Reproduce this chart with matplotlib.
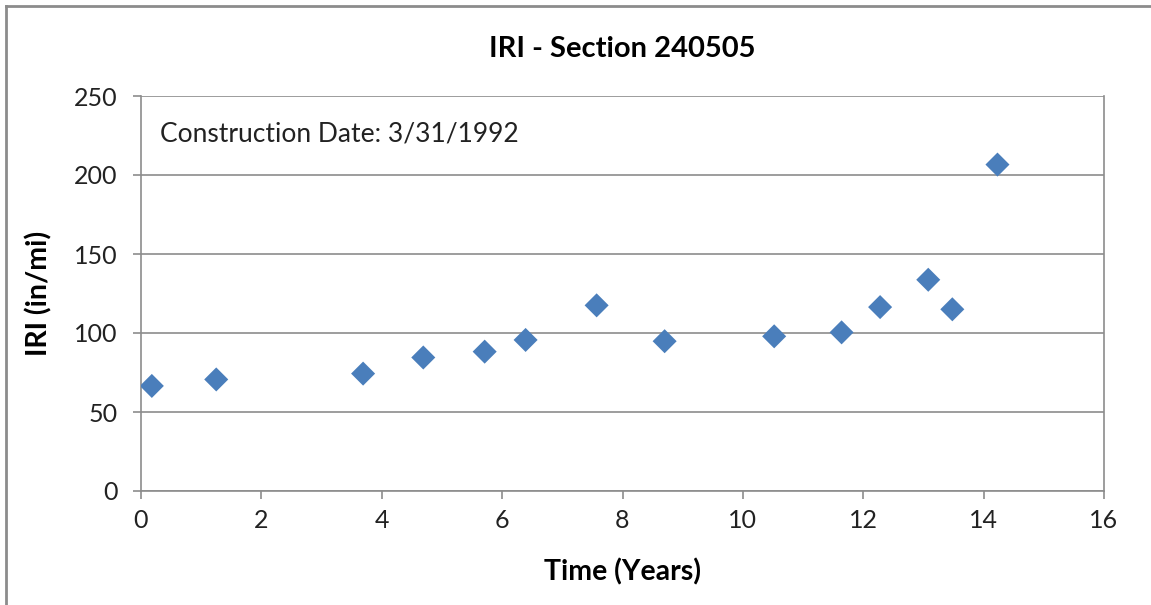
import matplotlib.pyplot as plt
from matplotlib.lines import Line2D

years = [0.18, 1.25, 3.69, 4.69, 5.71, 6.39, 7.57, 8.70, 10.52, 11.64, 12.28, 13.08, 13.48, 14.23]
iri = [66.5, 70.6, 74.3, 84.5, 88.2, 95.6, 117.5, 94.8, 97.9, 100.4, 116.4, 133.7, 115.0, 206.6]

xTicks = [0, 2, 4, 6, 8, 10, 12, 14, 16]
yTicks = [0, 50, 100, 150, 200, 250]

plt.rcParams['font.family'] = ['Lato', 'DejaVu Sans']

fig = plt.figure(figsize=(11.51, 6.05), dpi=100)
ax = fig.add_axes([141 / 1151, 1 - 491 / 605, (1104 - 141) / 1151, (491 - 96) / 605])

ax.scatter(years, iri, marker="D", s=150, color="#4A7EBB", edgecolors="none", zorder=3)

ax.set_xlim(0, 16)
ax.set_ylim(0, 250)
ax.set_xticks(xTicks)
ax.set_yticks(yTicks)
ax.grid(True, axis="y", color="#8c8c8c", linewidth=1.2)
ax.set_axisbelow(True)

for side in ["left", "bottom", "right"]:
    ax.spines[side].set_color("#8c8c8c")
    ax.spines[side].set_linewidth(1.2)
ax.spines["top"].set_visible(False)

ax.tick_params(axis="both", colors="#8c8c8c", labelcolor="#222222", labelsize=18,
               length=6, width=1.2, direction="out")
ax.tick_params(axis="x", pad=7)
ax.tick_params(axis="y", pad=11)

ax.set_xlabel("Time (Years)", fontsize=20.5, fontweight="bold", labelpad=19)
ax.set_ylabel("IRI (in/mi)", fontsize=20.5, fontweight="bold", labelpad=15)
ax.set_title("IRI - Section 240505", fontsize=21, fontweight="bold", pad=28)

ax.text(0.32, 226, "Construction Date: 3/31/1992", fontsize=19, color="#222222", va="center")

# chart border (open on the right and bottom edges of the image)
fig.add_artist(Line2D([6 / 1151, 6 / 1151], [0, 1 - 6 / 605], transform=fig.transFigure,
                      color="#8c8c8c", linewidth=2))
fig.add_artist(Line2D([6 / 1151, 1], [1 - 6 / 605, 1 - 6 / 605], transform=fig.transFigure,
                      color="#8c8c8c", linewidth=2))

fig.savefig("out.png", dpi=100)
